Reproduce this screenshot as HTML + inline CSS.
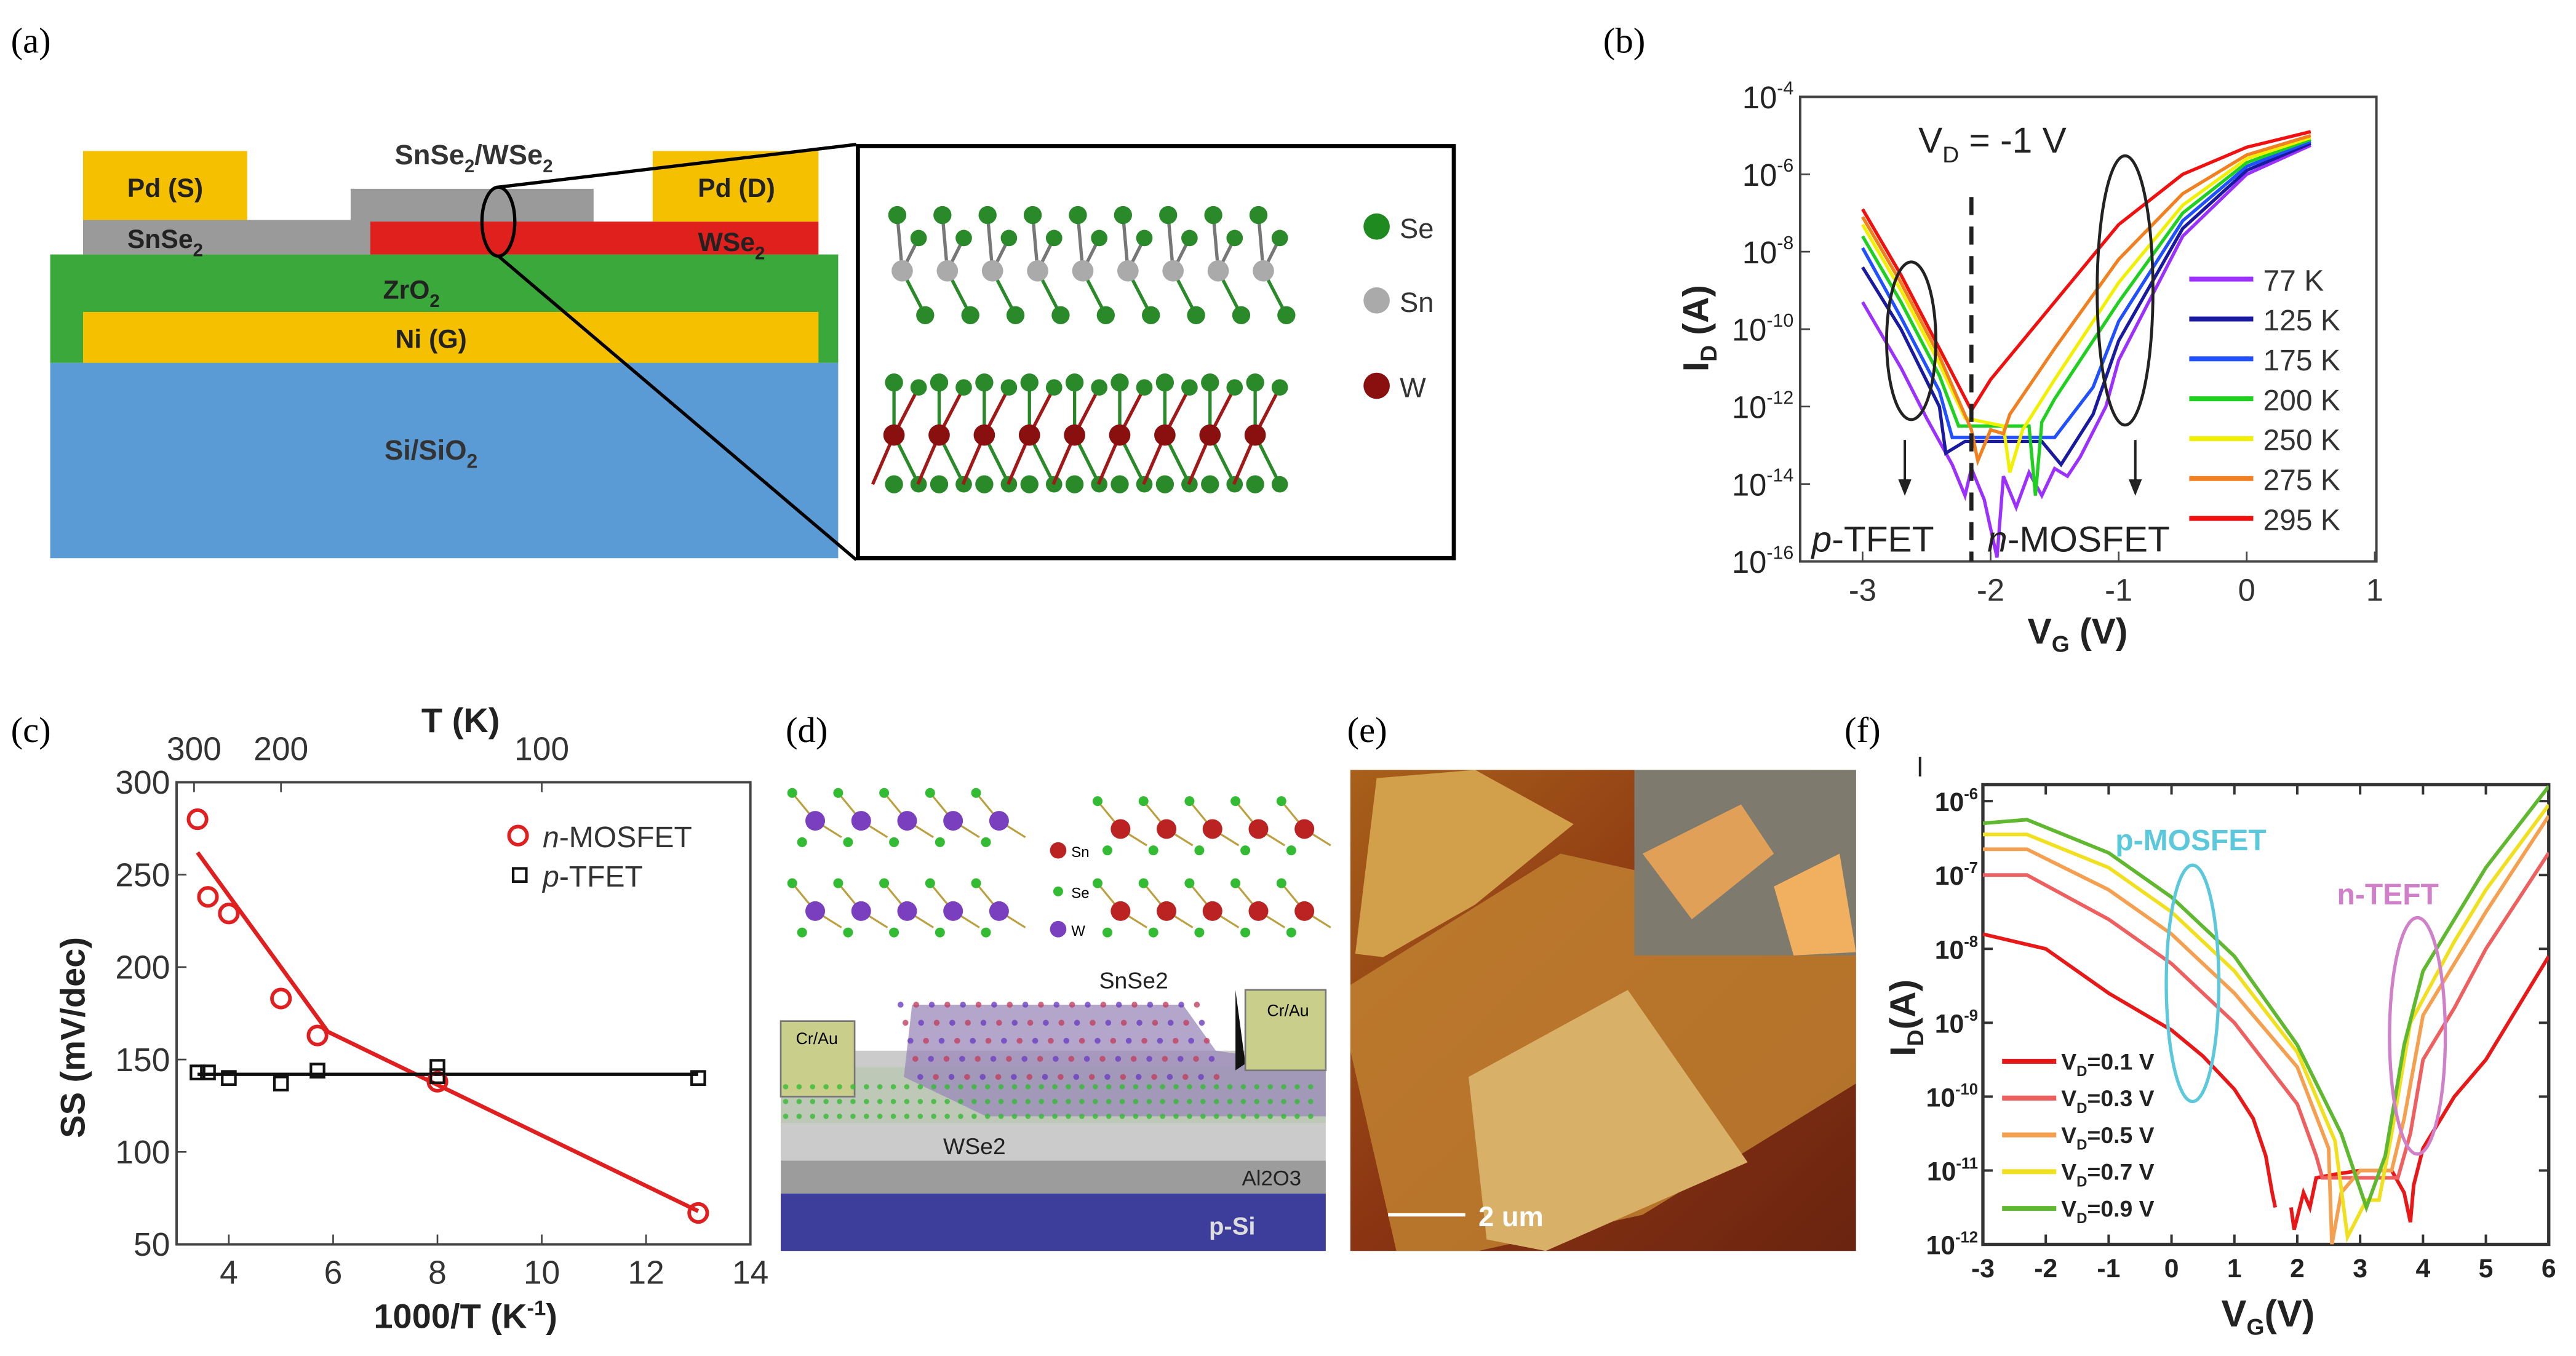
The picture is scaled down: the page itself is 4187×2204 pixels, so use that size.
<!DOCTYPE html>
<html><head><meta charset="utf-8"><style>
html,body{margin:0;padding:0;background:#fff}
svg{display:block}
text{font-family:"Liberation Sans",Arial,sans-serif}
.ser{font-family:"Liberation Serif",serif}
</style></head><body>
<svg id="fig" width="4187" height="2204" viewBox="0 0 1568 826" xmlns="http://www.w3.org/2000/svg">
<defs>
<linearGradient id="eg" x1="0" y1="0" x2="1" y2="1"><stop offset="0" stop-color="#a8601a"/><stop offset="0.5" stop-color="#8a3412"/><stop offset="1" stop-color="#6a2410"/></linearGradient>
</defs>
<g class="ser" font-size="22">
<text class="ser" x="6" y="32">(a)</text>
<text class="ser" x="976" y="32">(b)</text>
<text class="ser" x="6" y="452">(c)</text>
<text class="ser" x="478" y="452">(d)</text>
<text class="ser" x="820" y="452">(e)</text>
<text class="ser" x="1123" y="452">(f)</text>
</g>
<!-- panel a -->
<g font-weight="bold">
<rect x="30" y="221" width="480" height="119" fill="#5b9bd5"/>
<text x="262" y="280" text-anchor="middle" font-size="17" fill="#333">Si/SiO<tspan font-size="12" dy="5">2</tspan></text>
<rect x="30" y="155" width="480" height="66" fill="#3aa83a"/>
<text x="250" y="182" text-anchor="middle" font-size="16" fill="#222">ZrO<tspan font-size="11" dy="5">2</tspan></text>
<rect x="50" y="190" width="448" height="31" fill="#f5c000"/>
<text x="262" y="212" text-anchor="middle" font-size="16" fill="#222">Ni (G)</text>
<rect x="50" y="134" width="175" height="21" fill="#9a9a9a"/>
<text x="100" y="151" text-anchor="middle" font-size="16" fill="#222">SnSe<tspan font-size="11" dy="5">2</tspan></text>
<rect x="213" y="115" width="148" height="22" fill="#9a9a9a"/>
<rect x="225" y="135" width="273" height="20" fill="#e0201c"/>
<text x="445" y="153" text-anchor="middle" font-size="16" fill="#222">WSe<tspan font-size="11" dy="5">2</tspan></text>
<text x="288" y="100" text-anchor="middle" font-size="17" fill="#333">SnSe<tspan font-size="11" dy="5">2</tspan><tspan dy="-5">/WSe</tspan><tspan font-size="11" dy="5">2</tspan></text>
<rect x="50" y="92" width="100" height="42" fill="#f5c000"/>
<text x="100" y="120" text-anchor="middle" font-size="16" fill="#222">Pd (S)</text>
<rect x="397" y="92" width="101" height="43" fill="#f5c000"/>
<text x="448" y="120" text-anchor="middle" font-size="16" fill="#222">Pd (D)</text>
<ellipse cx="303" cy="135" rx="10" ry="21" fill="none" stroke="#000" stroke-width="2"/>
<line x1="303" y1="114" x2="521" y2="88" stroke="#000" stroke-width="2"/>
<line x1="303" y1="156" x2="521" y2="341" stroke="#000" stroke-width="2"/>
<rect x="522" y="89" width="363" height="251" fill="#fff" stroke="#000" stroke-width="2.5"/>
<g id="atoms"></g>
<circle cx="838" cy="138" r="8" fill="#1f8a1f"/><text x="852" y="145" font-size="17" font-weight="normal" fill="#333">Se</text>
<circle cx="838" cy="183" r="8" fill="#aaa"/><text x="852" y="190" font-size="17" font-weight="normal" fill="#333">Sn</text>
<circle cx="838" cy="235" r="8" fill="#8a1010"/><text x="852" y="242" font-size="17" font-weight="normal" fill="#333">W</text>
</g>
<!-- panel d -->
<g>
<rect x="475" y="727" width="332" height="35" fill="#3d3d9c"/>
<text x="750" y="752" text-anchor="middle" font-size="15" font-weight="bold" fill="#ddd">p-Si</text>
<rect x="475" y="707" width="332" height="20" fill="#9c9c9c"/>
<text x="774" y="722" text-anchor="middle" font-size="13" fill="#222">Al2O3</text>
<polygon points="475,707 475,640 807,640 807,707" fill="#cbcbcb"/>
<polygon points="475,684 475,650 807,650 807,684" fill="#b9c7b0" opacity="0.8"/>
<polygon points="550,656 555,612 720,612 740,640 807,650 807,680 600,680" fill="#9a88b8" opacity="0.75"/>
<text x="593" y="703" text-anchor="middle" font-size="14" fill="#222">WSe2</text>
<text x="690" y="602" text-anchor="middle" font-size="14" fill="#222">SnSe2</text>
<rect x="475" y="622" width="45" height="46" fill="#c9cf8a" stroke="#777"/>
<text x="497" y="636" text-anchor="middle" font-size="10">Cr/Au</text>
<polygon points="752,603 758,648 752,652" fill="#111"/>
<rect x="758" y="603" width="49" height="49" fill="#c9cf8a" stroke="#777"/>
<text x="784" y="619" text-anchor="middle" font-size="10">Cr/Au</text>
<g id="molD"></g>
<circle cx="644" cy="518" r="5" fill="#b22"/><text x="652" y="522" font-size="9">Sn</text>
<circle cx="644" cy="543" r="3" fill="#3b3"/><text x="652" y="547" font-size="9">Se</text>
<circle cx="644" cy="566" r="5" fill="#7a3fbf"/><text x="652" y="570" font-size="9">W</text>
</g>
<!-- panel e -->
<g>
<rect x="822" y="469" width="308" height="293" fill="url(#eg)"/>
<polygon points="822,640 822,600 950,520 1130,560 1130,660 1000,740 900,762 850,762" fill="#c08030" opacity="0.85"/>
<polygon points="838,474 898,469 958,502 898,551 842,583 825,581" fill="#d2a04a"/>
<polygon points="894,656 991,603 1064,708 941,762 905,755" fill="#d8b068"/>
<rect x="995" y="469" width="135" height="113" fill="#7e7a6e"/>
<polygon points="1000,520 1060,490 1080,520 1030,560" fill="#e0a058"/>
<polygon points="1080,540 1120,520 1130,580 1092,582" fill="#f0b060"/>
<line x1="845" y1="740" x2="892" y2="740" stroke="#fff" stroke-width="2"/>
<text x="900" y="747" font-size="17" font-weight="bold" fill="#fff">2 um</text>
</g>
<g id="chartB"></g>
<g id="chartC"></g>
<g id="chartF"></g>
</svg>
<script>
// ---- panel b data ----
const bNames = ["77 K","125 K","175 K","200 K","250 K","275 K","295 K"];
const bColors = ["#9b30ff","#1a1aa0","#2050ff","#20d020","#f0f000","#f08020","#f01010"];
const bV77 = [[-3,-9.3],[-2.7,-11],[-2.5,-12.3],[-2.3,-13.5],[-2.2,-14.3],[-2.15,-13.6],[-2.05,-14.4],[-1.95,-15.9],[-1.9,-13.8],[-1.8,-14.6],[-1.7,-13.7],[-1.6,-14.3],[-1.5,-13.6],[-1.4,-13.8],[-1.3,-13.3],[-1.1,-12],[-1,-10.8],[-0.5,-7.6],[0,-6],[0.5,-5.25]];
const bV125 = [[-3,-8.4],[-2.7,-10],[-2.4,-12],[-2.35,-13.2],[-2.2,-12.9],[-1.6,-12.9],[-1.45,-13.5],[-1.2,-12.2],[-1,-10.3],[-0.5,-7.4],[0,-5.9],[0.5,-5.2]];
const bV175 = [[-3,-7.9],[-2.7,-9.7],[-2.4,-11.6],[-2.3,-12.8],[-1.6,-12.8],[-1.5,-12.8],[-1.2,-11.5],[-1,-9.8],[-0.5,-7.2],[0,-5.8],[0.5,-5.15]];
const bV200 = [[-3,-7.6],[-2.7,-9.3],[-2.4,-11.2],[-2.25,-12.5],[-1.7,-12.5],[-1.65,-14.3],[-1.6,-12.4],[-1.5,-11.8],[-1,-9.3],[-0.5,-7],[0,-5.7],[0.5,-5.1]];
const bV250 = [[-3,-7.3],[-2.7,-9],[-2.4,-10.9],[-2.2,-12.3],[-1.9,-12.5],[-1.85,-13.7],[-1.75,-12.6],[-1.5,-11.3],[-1,-8.8],[-0.5,-6.8],[0,-5.6],[0.5,-5.05]];
const bV275 = [[-3,-7.1],[-2.7,-8.8],[-2.4,-10.7],[-2.15,-12.6],[-2.1,-13.4],[-2.0,-12.6],[-1.9,-12.7],[-1.85,-12.2],[-1.5,-10.5],[-1,-8.2],[-0.5,-6.5],[0,-5.5],[0.5,-5.0]];
const bV295 = [[-3,-6.9],[-2.7,-8.6],[-2.4,-10.5],[-2.15,-12.1],[-2.0,-11.3],[-1.5,-9.3],[-1,-7.3],[-0.5,-6.0],[0,-5.3],[0.5,-4.9]];
const bSeries = [bV77,bV125,bV175,bV200,bV250,bV275,bV295];
const bXTicks = [-3,-2,-1,0,1];
const bYTicks = [-4,-6,-8,-10,-12,-14,-16];
// ---- panel c data ----
const cMosX = [3.4,3.6,4,5,5.7,8,13];
const cMosY = [280,238,229,183,163,138,67];
const cFitX = [3.4,5.9,13];
const cFitY = [262,165,68];
const cTfetX = [3.4,3.6,4,5,5.7,8,8,13];
const cTfetY = [143,143,140,137,144,146,141,140];
const cTfetLine = [142];
const cXTicks = [4,6,8,10,12,14];
const cYTicks = [50,100,150,200,250,300];
const cTopTicks = [300,200,100];
// ---- panel f data ----
const fNames = ["V_D=0.1 V","V_D=0.3 V","V_D=0.5 V","V_D=0.7 V","V_D=0.9 V"];
const fColors = ["#e81818","#ee6060","#f5a050","#f0e020","#60b830"];
const fV01 = [[-3,-7.8],[-2,-8.0],[-1,-8.6],[0,-9.1],[0.5,-9.45],[1,-9.9],[1.3,-10.3],[1.5,-10.8],[1.6,-11.3],[1.65,-11.5],null,[1.9,-11.5],[1.95,-11.8],[2.1,-11.3],[2.2,-11.5],[2.3,-11.1],[2.6,-11.05],[3,-11.0],[3.5,-11.0],[3.7,-11.3],[3.8,-11.7],[3.85,-11.2],[4,-10.7],[4.5,-10.0],[5,-9.5],[6,-8.1]];
const fV03 = [[-3,-7.0],[-2.3,-7.0],[-1,-7.6],[0,-8.2],[1,-9.0],[2,-10.1],[2.3,-10.8],[2.4,-11.1],[3.6,-11.1],[3.8,-10.5],[4,-9.5],[4.5,-8.8],[5,-8.0],[6,-6.7]];
const fV05 = [[-3,-6.65],[-2.3,-6.65],[-1,-7.2],[0,-7.8],[1,-8.6],[2,-9.6],[2.5,-10.7],[2.55,-12],[2.7,-11.3],[3,-11],[3.5,-11],[3.7,-10.3],[4,-8.9],[4.5,-8.2],[5,-7.5],[6,-6.2]];
const fV07 = [[-3,-6.45],[-2.3,-6.45],[-1,-6.9],[0,-7.5],[1,-8.3],[2,-9.4],[2.6,-10.6],[2.8,-11.9],[3.1,-11.4],[3.3,-11.4],[3.5,-10.5],[3.8,-9.0],[4.5,-7.9],[5,-7.2],[6,-6.05]];
const fV09 = [[-3,-6.3],[-2.3,-6.25],[-1,-6.7],[0,-7.3],[1,-8.1],[2,-9.3],[2.7,-10.5],[3.1,-11.5],[3.4,-10.8],[3.7,-9.3],[4,-8.3],[4.5,-7.6],[5,-6.9],[6,-5.8]];
const fSeries = [fV01,fV03,fV05,fV07,fV09];
const fXTicks = [-3,-2,-1,0,1,2,3,4,5,6];
const fYTicks = [-6,-7,-8,-9,-10,-11,-12];

const NS="http://www.w3.org/2000/svg";
function mk(p,tag,at,txt){const e=document.createElementNS(NS,tag);for(const k in at)e.setAttribute(k,at[k]);if(txt!==undefined)e.textContent=txt;p.appendChild(e);return e;}
function pathFrom(pts,sx,sy){let d="",m=true;for(const p of pts){if(!p){m=true;continue;}d+=(m?"M":"L")+sx(p[0]).toFixed(1)+","+sy(p[1]).toFixed(1);m=false;}return d;}
function pow10(p,x,y,exp,fs,anchorEnd,bold){const t=mk(p,"text",{x:x,y:y,"font-size":fs,"text-anchor":anchorEnd?"end":"middle","font-weight":bold?"bold":"normal",fill:"#222"});
 const a=document.createElementNS(NS,"tspan");a.textContent="10";t.appendChild(a);const b=document.createElementNS(NS,"tspan");b.setAttribute("dy",-fs*0.45);b.setAttribute("font-size",fs*0.6);b.textContent=exp;t.appendChild(b);return t;}

// ---- chart B ----
(function(){
const g=document.getElementById("chartB");
const L=1096,R=1447,T=59,B=342;
const sx=v=>1134+(v+3)*78, sy=v=>59+(-4-v)*(283/12);
mk(g,"rect",{x:L,y:T,width:R-L,height:B-T,fill:"none",stroke:"#444","stroke-width":1.5});
for(const t of bXTicks){const l=mk(g,"line",{x1:sx(t),x2:sx(t),y1:B,y2:B-6,stroke:"#444"});
 mk(g,"text",{x:sx(t),y:B+24,"font-size":19,"text-anchor":"middle",fill:"#333"},t);}
for(const t of bYTicks){mk(g,"line",{x1:L,x2:L+6,y1:sy(t),y2:sy(t),stroke:"#444"});pow10(g,L-4,sy(t)+7,t,19,true,false);}
for(let i=0;i<bSeries.length;i++){const p=mk(g,"path",{d:pathFrom(bSeries[i],sx,sy),fill:"none",stroke:bColors[i],"stroke-width":2});
 
 const ly=170+i*24.3;mk(g,"line",{x1:1333,x2:1372,y1:ly,y2:ly,stroke:bColors[i],"stroke-width":3});
 const lt=mk(g,"text",{x:1378,y:ly+7,"font-size":18,fill:"#333"},bNames[i]);}
mk(g,"line",{x1:sx(-2.15),x2:sx(-2.15),y1:120,y2:B,stroke:"#222","stroke-width":2.5,"stroke-dasharray":"11,7"});
mk(g,"ellipse",{cx:sx(-2.62),cy:sy(-10.3),rx:15,ry:48,fill:"none",stroke:"#222","stroke-width":1.8});
mk(g,"ellipse",{cx:sx(-0.95),cy:sy(-9.0),rx:17,ry:82,fill:"none",stroke:"#222","stroke-width":1.8});
mk(g,"line",{x1:sx(-2.67),x2:sx(-2.67),y1:268,y2:298,stroke:"#222","stroke-width":1.5});mk(g,"path",{d:`M${sx(-2.67)-4},292 L${sx(-2.67)},302 L${sx(-2.67)+4},292Z`,fill:"#222"});
mk(g,"line",{x1:sx(-0.87),x2:sx(-0.87),y1:268,y2:298,stroke:"#222","stroke-width":1.5});mk(g,"path",{d:`M${sx(-0.87)-4},292 L${sx(-0.87)},302 L${sx(-0.87)+4},292Z`,fill:"#222"});
const t1=mk(g,"text",{x:1103,y:336,"font-size":22,fill:"#222"});t1.innerHTML='<tspan font-style="italic">p</tspan>-TFET';
const t2=mk(g,"text",{x:1210,y:336,"font-size":22,fill:"#222"});t2.innerHTML='<tspan font-style="italic">n</tspan>-MOSFET';
const t3=mk(g,"text",{x:1168,y:93,"font-size":22,fill:"#222"});t3.innerHTML='V<tspan font-size="14" dy="6">D</tspan><tspan dy="-6"> = -1 V</tspan>';
const yl=mk(g,"text",{transform:"translate(1040,200) rotate(-90)","font-size":22,"font-weight":"bold","text-anchor":"middle",fill:"#222"});yl.innerHTML='I<tspan font-size="14" dy="5">D</tspan><tspan dy="-5"> (A)</tspan>';

const xl=mk(g,"text",{x:1265,y:392,"font-size":22,"font-weight":"bold","text-anchor":"middle",fill:"#222"});xl.innerHTML='V<tspan font-size="14" dy="5">G</tspan><tspan dy="-5"> (V)</tspan>';

})();

// ---- chart C ----
(function(){
const g=document.getElementById("chartC");
const L=107,R=456.5,T=476.5,B=758;
const sx=v=>138.8+(v-4)*31.77, sy=v=>758-(v-50)*1.126;
mk(g,"rect",{x:L,y:T,width:R-L,height:B-T,fill:"none",stroke:"#444","stroke-width":1.5});
for(const t of cXTicks){mk(g,"line",{x1:sx(t),x2:sx(t),y1:B,y2:B-6,stroke:"#444"});mk(g,"text",{x:sx(t),y:B+24,"font-size":20,"text-anchor":"middle",fill:"#333"},t);}
for(const t of cYTicks){mk(g,"line",{x1:L,x2:L+6,y1:sy(t),y2:sy(t),stroke:"#444"});mk(g,"text",{x:L-4,y:sy(t)+7,"font-size":20,"text-anchor":"end",fill:"#333"},t);}
for(const t of cTopTicks){const x=sx(1000/t);mk(g,"line",{x1:x,x2:x,y1:T,y2:T+6,stroke:"#444"});mk(g,"text",{x:x,y:463,"font-size":20,"text-anchor":"middle",fill:"#333"},t);}
const fl=mk(g,"polyline",{points:cFitX.map((x,i)=>sx(x)+","+sy(cFitY[i])).join(" "),fill:"none",stroke:"#e02020","stroke-width":2.5});

const hl=mk(g,"line",{x1:sx(cTfetX[0]),x2:sx(13),y1:sy(cTfetLine[0]),y2:sy(cTfetLine[0]),stroke:"#111","stroke-width":2});

for(let i=0;i<cMosX.length;i++){const c=mk(g,"circle",{cx:sx(cMosX[i]),cy:sy(cMosY[i]),r:5.5,fill:"none",stroke:"#e02020","stroke-width":2.2});
 }
for(let i=0;i<cTfetX.length;i++){const r=mk(g,"rect",{x:sx(cTfetX[i])-4,y:sy(cTfetY[i])-4,width:8,height:8,fill:"none",stroke:"#111","stroke-width":1.6});
 }
mk(g,"circle",{cx:315,cy:509,r:5.5,fill:"none",stroke:"#e02020","stroke-width":2.2});
const a=mk(g,"text",{x:330,y:516,"font-size":18,fill:"#333"});a.innerHTML='<tspan font-style="italic">n</tspan>-MOSFET';
mk(g,"rect",{x:312,y:529,width:8,height:8,fill:"none",stroke:"#111","stroke-width":1.6});
const b=mk(g,"text",{x:330,y:540,"font-size":18,fill:"#333"});b.innerHTML='<tspan font-style="italic">p</tspan>-TFET';
mk(g,"text",{x:280,y:446,"font-size":21,"font-weight":"bold","text-anchor":"middle",fill:"#222"},"T (K)");
mk(g,"text",{transform:"translate(51,632) rotate(-90)","font-size":21,"font-weight":"bold","text-anchor":"middle",fill:"#222"},"SS (mV/dec)");
const xt=mk(g,"text",{x:283,y:809,"font-size":21,"font-weight":"bold","text-anchor":"middle",fill:"#222"});xt.innerHTML='1000/T (K<tspan font-size="13" dy="-8">-1</tspan><tspan dy="8">)</tspan>';
})();

// ---- chart F ----
(function(){
const g=document.getElementById("chartF");
const L=1207.3,R=1552,T=478,B=758;
const sx=v=>1207.3+(v+3)*38.3, sy=v=>488+(-6-v)*45;
const cl=mk(g,"clipPath",{id:"fclip"});mk(cl,"rect",{x:L,y:T,width:R-L,height:B-T});
mk(g,"rect",{x:L,y:T,width:R-L,height:B-T,fill:"none",stroke:"#333","stroke-width":2});
for(const t of fXTicks){mk(g,"line",{x1:sx(t),x2:sx(t),y1:B,y2:B-6,stroke:"#333","stroke-width":1.5});mk(g,"line",{x1:sx(t),x2:sx(t),y1:T,y2:T+6,stroke:"#333","stroke-width":1.5});
 mk(g,"text",{x:sx(t),y:778,"font-size":16,"font-weight":"bold","text-anchor":"middle",fill:"#222"},t);}
for(const t of fYTicks){mk(g,"line",{x1:L,x2:L+6,y1:sy(t),y2:sy(t),stroke:"#333","stroke-width":1.5});mk(g,"line",{x1:R,x2:R-6,y1:sy(t),y2:sy(t),stroke:"#333","stroke-width":1.5});
 pow10(g,L-3,sy(t)+6,t,16,true,true);}
const cg=mk(g,"g",{"clip-path":"url(#fclip)"});
for(let i=0;i<fSeries.length;i++){const p=mk(cg,"path",{d:pathFrom(fSeries[i],sx,sy),fill:"none",stroke:fColors[i],"stroke-width":2.2});
 
 const ly=646.5+i*22.4;mk(g,"line",{x1:1219,x2:1252,y1:ly,y2:ly,stroke:fColors[i],"stroke-width":3});
 const parts=fNames[i].split("=");const lt=mk(g,"text",{x:1255,y:ly+5,"font-size":14,"font-weight":"bold",fill:"#222"});lt.innerHTML='V<tspan font-size="9" dy="4">D</tspan><tspan dy="-4">='+parts[1]+'</tspan>';
 }
mk(g,"ellipse",{cx:1335,cy:599,rx:16,ry:72,fill:"none",stroke:"#5cc8dc","stroke-width":2});
mk(g,"ellipse",{cx:1472,cy:631,rx:17,ry:72,fill:"none",stroke:"#d080c8","stroke-width":2});
mk(g,"text",{x:1288,y:518,"font-size":18,"font-weight":"bold",fill:"#5cc8dc"},"p-MOSFET");
mk(g,"text",{x:1423,y:551,"font-size":18,"font-weight":"bold",fill:"#d080c8"},"n-TEFT");
mk(g,"line",{x1:1169,x2:1169,y1:461,y2:473,stroke:"#222","stroke-width":1.5});
const yl=mk(g,"text",{transform:"translate(1166,620) rotate(-90)","font-size":22,"font-weight":"bold","text-anchor":"middle",fill:"#222"});yl.innerHTML='I<tspan font-size="14" dy="5">D</tspan><tspan dy="-5">(A)</tspan>';
const xl=mk(g,"text",{x:1381,y:808,"font-size":23,"font-weight":"bold","text-anchor":"middle",fill:"#222"});xl.innerHTML='V<tspan font-size="14" dy="5">G</tspan><tspan dy="-5">(V)</tspan>';
})();

// ---- decorative atoms ----
(function(){
const g=document.getElementById("atoms");
for(let i=0;i<9;i++){const x=549+i*27.5;
 mk(g,"line",{x1:x,y1:165,x2:x-3,y2:131,stroke:"#777","stroke-width":2});mk(g,"line",{x1:x,y1:165,x2:x+14,y2:192,stroke:"#2a8a2a","stroke-width":2});mk(g,"line",{x1:x,y1:165,x2:x+10,y2:145,stroke:"#777","stroke-width":2});
 mk(g,"circle",{cx:x-3,cy:131,r:5.5,fill:"#2a8a2a"});mk(g,"circle",{cx:x+10,cy:145,r:5,fill:"#2a8a2a"});mk(g,"circle",{cx:x+14,cy:192,r:5.5,fill:"#2a8a2a"});mk(g,"circle",{cx:x,cy:165,r:6.5,fill:"#aaa"});
 mk(g,"line",{x1:x-5,y1:265,x2:x-5,y2:233,stroke:"#2a8a2a","stroke-width":2});mk(g,"line",{x1:x-5,y1:265,x2:x+10,y2:295,stroke:"#2a8a2a","stroke-width":2});
 mk(g,"line",{x1:x-5,y1:265,x2:x+10,y2:236,stroke:"#a01818","stroke-width":2});mk(g,"line",{x1:x-5,y1:265,x2:x-18,y2:295,stroke:"#a01818","stroke-width":2});
 mk(g,"circle",{cx:x-5,cy:233,r:5.5,fill:"#2a8a2a"});mk(g,"circle",{cx:x+10,cy:236,r:5,fill:"#2a8a2a"});mk(g,"circle",{cx:x-5,cy:295,r:5.5,fill:"#2a8a2a"});mk(g,"circle",{cx:x+10,cy:295,r:5,fill:"#2a8a2a"});mk(g,"circle",{cx:x-5,cy:265,r:6.5,fill:"#8a1010"});}
const d=document.getElementById("molD");
for(const [ox,oy,c] of [[482,475,"#7a3fbf"],[482,530,"#7a3fbf"],[668,480,"#b22"],[668,530,"#b22"]]){
 for(let i=0;i<5;i++){const x=ox+i*28;mk(d,"line",{x1:x,y1:oy+8,x2:x+14,y2:oy+25,stroke:"#bba040","stroke-width":1.2});mk(d,"line",{x1:x+14,y1:oy+25,x2:x+30,y2:oy+35,stroke:"#bba040","stroke-width":1.2});
 mk(d,"circle",{cx:x,cy:oy+8,r:3,fill:"#3b3"});mk(d,"circle",{cx:x+14,cy:oy+25,r:6,fill:c});mk(d,"circle",{cx:x+6,cy:oy+38,r:3,fill:"#3b3"});}}
for(let i=0;i<20;i++)for(let j=0;j<5;j++)mk(d,"circle",{cx:548+i*9.5+j*3,cy:612+j*11,r:1.8,fill:(i+j)%2?"#c04060":"#6a3fbf",opacity:0.8});
for(let i=0;i<40;i++)for(let j=0;j<3;j++)mk(d,"circle",{cx:478+i*8.2,cy:662+j*9,r:1.6,fill:"#3b3",opacity:0.8});
})();
</script>
</body></html>
